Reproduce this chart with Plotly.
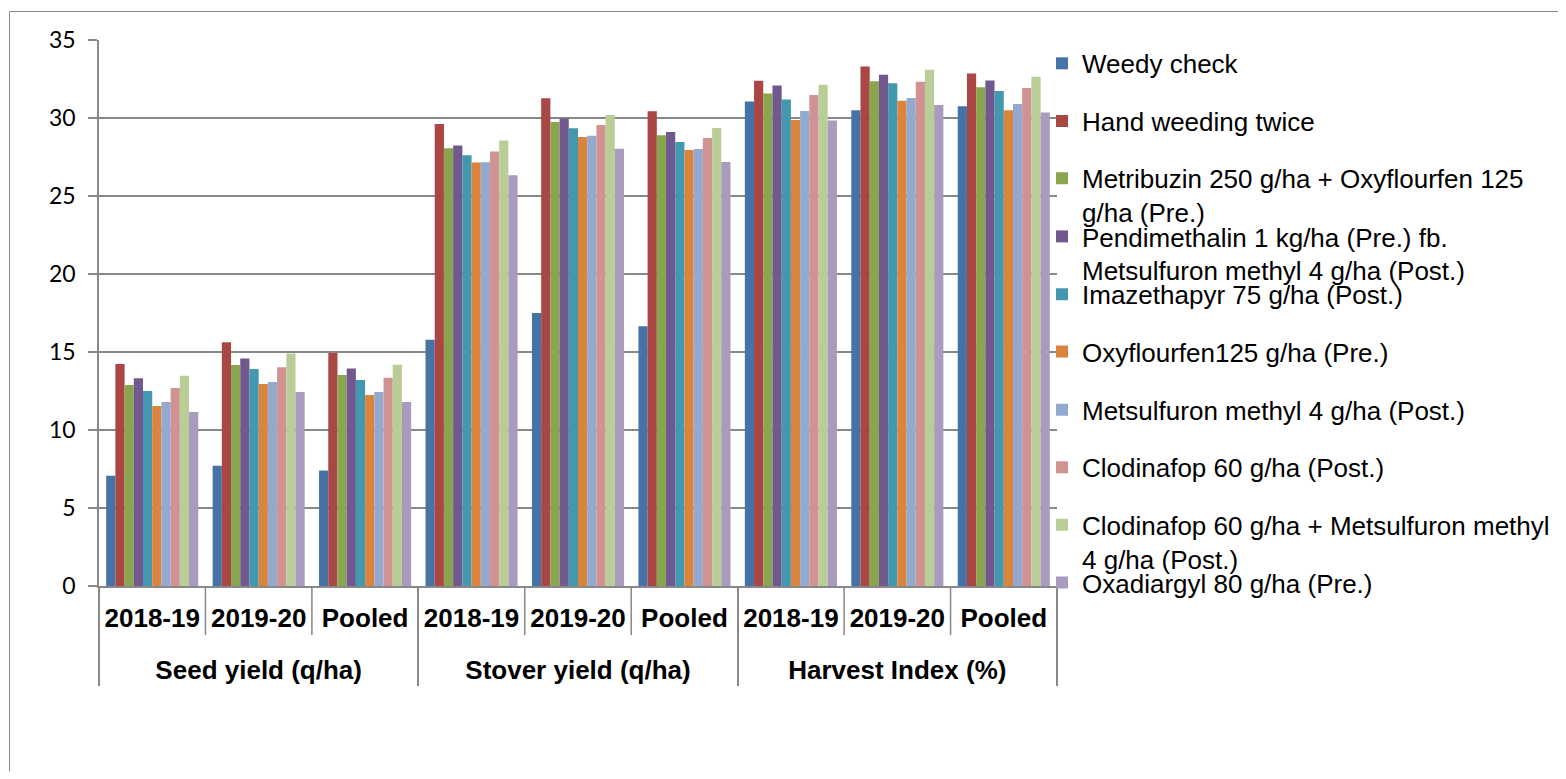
import plotly.graph_objects as go

# ---------------- data ----------------
groups = ["Seed yield (q/ha)"] * 3 + ["Stover yield (q/ha)"] * 3 + ["Harvest Index (%)"] * 3
seasons = ["2018-19", "2019-20", "Pooled"] * 3

treatments = [
    "Weedy check",
    "Hand weeding twice",
    "Metribuzin 250 g/ha + Oxyflourfen 125<br>g/ha (Pre.)",
    "Pendimethalin 1 kg/ha (Pre.) fb.<br>Metsulfuron methyl 4 g/ha (Post.)",
    "Imazethapyr 75 g/ha (Post.)",
    "Oxyflourfen125 g/ha (Pre.)",
    "Metsulfuron methyl 4 g/ha (Post.)",
    "Clodinafop 60 g/ha (Post.)",
    "Clodinafop 60 g/ha + Metsulfuron methyl<br>4 g/ha (Post.)",
    "Oxadiargyl 80 g/ha (Pre.)",
]

weedy_check = [7.07, 7.71, 7.41, 15.79, 17.50, 16.65, 31.05, 30.49, 30.76]
hand_weeding = [14.23, 15.62, 14.94, 29.62, 31.26, 30.43, 32.38, 33.30, 32.85]
metribuzin_oxy = [12.88, 14.17, 13.53, 28.06, 29.74, 28.89, 31.57, 32.35, 31.97]
pendimethalin_mets = [13.31, 14.59, 13.95, 28.23, 29.96, 29.10, 32.09, 32.78, 32.40]
imazethapyr = [12.50, 13.91, 13.20, 27.61, 29.34, 28.46, 31.19, 32.22, 31.73]
oxyflourfen = [11.54, 12.95, 12.24, 27.14, 28.78, 27.95, 29.87, 31.10, 30.49]
metsulfuron = [11.80, 13.08, 12.44, 27.16, 28.87, 28.01, 30.45, 31.28, 30.90]
clodinafop = [12.69, 14.02, 13.35, 27.86, 29.55, 28.72, 31.48, 32.33, 31.93]
clodinafop_mets = [13.48, 14.91, 14.19, 28.55, 30.19, 29.36, 32.13, 33.09, 32.65]
oxadiargyl = [11.15, 12.44, 11.80, 26.33, 28.03, 27.18, 29.84, 30.83, 30.36]

series = [weedy_check, hand_weeding, metribuzin_oxy, pendimethalin_mets, imazethapyr,
          oxyflourfen, metsulfuron, clodinafop, clodinafop_mets, oxadiargyl]

colors = ["#4572A7", "#AA4643", "#89A54E", "#71588F", "#4198AF",
          "#DB843D", "#93A9CF", "#D19392", "#B9CD96", "#A99BBD"]

y_ticks = [0, 5, 10, 15, 20, 25, 30, 35]

# season labels get a tiny invisible second line so the group row sits lower (as in the original)
season_labels = [s + "<br><span style='font-size:1px'>\u00a0</span>" for s in seasons]

# ---------------- layout geometry (page pixels; the page body has an 8px margin) ----------------
OFF = 8
W, H = 1550, 763
L, T = 99 - OFF, 40 - OFF
R = W - (1057 - OFF)
B = H - (586 - OFF)
PW, PH = W - L - R, H - T - B
GRAY = "#888888"

def px_x(x):
    return (x - OFF - L) / PW

def px_y(y):
    return (H - B - (y - OFF)) / PH

legend_centers = [64.4, 122.2, 179.3, 237.5, 295.3, 352.7, 410.9, 468.4, 525.8, 583.6]

fig = go.Figure()
for i, (name, vals, col) in enumerate(zip(treatments, series, colors)):
    lg = "legend" if i == 0 else f"legend{i + 1}"
    fig.add_trace(go.Bar(
        x=[groups, season_labels], y=vals, name=name, marker=dict(color=col, line=dict(width=0)),
        legend=lg, showlegend=True,
    ))

legend_font = dict(family="Liberation Sans, Arial", size=26, color="#000000")
legend_layouts = {}
for i, c in enumerate(legend_centers):
    key = "legend" if i == 0 else f"legend{i + 1}"
    legend_layouts[key] = dict(
        x=px_x(1042), y=px_y(c - 24.5), xanchor="left", yanchor="top",
        font=legend_font, bgcolor="rgba(0,0,0,0)", borderwidth=0,
        valign="top", itemclick=False, itemdoubleclick=False, visible=True,
    )

shapes = []
# sub-category boundary marks below the axis
for k in [1, 2, 4, 5, 7, 8]:
    shapes.append(dict(type="line", xref="paper", yref="paper",
                       x0=k / 9, x1=k / 9, y0=0, y1=px_y(635),
                       line=dict(color=GRAY, width=1.5)))
# outer chart border
shapes.append(dict(type="rect", xref="paper", yref="paper",
                   x0=px_x(9.5), x1=px_x(1590), y0=px_y(800), y1=px_y(11.5),
                   line=dict(color=GRAY, width=1), fillcolor="rgba(0,0,0,0)", layer="below"))

fig.update_layout(
    width=W, height=H, autosize=False,
    margin=dict(l=L, r=R, t=T, b=B, pad=0, autoexpand=False),
    paper_bgcolor="white", plot_bgcolor="white",
    barmode="group", bargap=0.135, bargroupgap=0,
    showlegend=True,
    font=dict(family="Liberation Sans, Arial", color="#000000"),
    shapes=shapes,
    **legend_layouts,
)

fig.update_xaxes(
    type="multicategory",
    showline=True, linecolor=GRAY, linewidth=1.5,
    showgrid=False, ticks="",
    ticklabelstandoff=8,
    showdividers=True, dividercolor=GRAY, dividerwidth=1.5,
    tickfont=dict(family="Liberation Sans, Arial", size=26, color="#000000", weight="bold"),
)
fig.update_yaxes(
    range=[0, 35], tickvals=y_ticks, ticktext=[str(v) for v in y_ticks],
    showline=True, linecolor=GRAY, linewidth=1.5,
    showgrid=True, gridcolor=GRAY, gridwidth=1.5,
    ticks="outside", ticklen=9, tickcolor=GRAY, tickwidth=1.5,
    ticklabelstandoff=8,
    tickfont=dict(family="Lato, Carlito, Calibri, sans-serif", size=23, color="#000000"),
    zeroline=False,
)

fig.write_html("out.html")
